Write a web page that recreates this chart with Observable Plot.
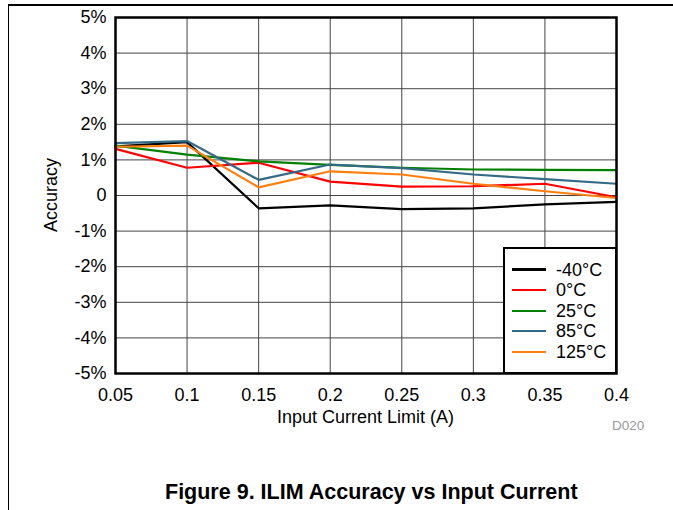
<!DOCTYPE html>
<html>
<head>
<meta charset="utf-8">
<script src="https://cdn.jsdelivr.net/npm/d3@7"></script>
<script src="https://cdn.jsdelivr.net/npm/@observablehq/plot@0.6"></script>
<style>
  html, body { margin: 0; padding: 0; background: #fff; }
  body { width: 673px; height: 510px; position: relative; overflow: hidden; font-family: Arial, "Liberation Sans", sans-serif; }
  #border { position: absolute; left: 8px; top: 4px; width: 665px; height: 506px; border-top: 2px solid #000; border-left: 1.5px solid #000; box-sizing: border-box; }
  #chart { position: absolute; left: 0; top: 0; }
  #ylabel { position: absolute; left: 51px; top: 194.5px; transform: translate(-50%, -50%) rotate(-90deg); font-size: 18px; line-height: 18px; white-space: nowrap; }
  #xlabel { position: absolute; left: 365.5px; top: 408px; transform: translateX(-50%); font-size: 18px; line-height: 18px; white-space: nowrap; }
  #code { position: absolute; left: 612px; top: 418.5px; font-size: 13.5px; line-height: 13.5px; color: #999; }
  #title { position: absolute; left: 165px; top: 482px; font-size: 21.5px; line-height: 21.5px; font-weight: bold; white-space: nowrap; }
  #legend { position: absolute; left: 502.5px; top: 246.5px; width: 114px; height: 127px; border: 2.5px solid #000; background: #fff; box-sizing: border-box; }
  .item { position: absolute; left: 7.5px; height: 20px; display: flex; align-items: center; font-size: 18px; line-height: 18px; white-space: nowrap; }
  .sw { width: 34px; height: 2.3px; margin-right: 10px; }
</style>
</head>
<body>
<div id="border"></div>
<div id="chart"></div>
<div id="ylabel">Accuracy</div>
<div id="xlabel">Input Current Limit (A)</div>
<div id="code">D020</div>
<div id="title">Figure 9. ILIM Accuracy vs Input Current</div>
<div id="legend"></div>
<script>
const currents = [0.05, 0.1, 0.15, 0.2, 0.25, 0.3, 0.35, 0.4];
const seriesNames = ["-40°C", "0°C", "25°C", "85°C", "125°C"];
const seriesColors = ["#000000", "#ff0000", "#008000", "#336a85", "#ff7f0e"];
const accM40 = [1.38, 1.50, -0.36, -0.28, -0.38, -0.36, -0.25, -0.18];
const acc0 = [1.31, 0.78, 0.92, 0.39, 0.25, 0.26, 0.33, -0.05];
const acc25 = [1.40, 1.15, 0.96, 0.86, 0.78, 0.73, 0.72, 0.71];
const acc85 = [1.47, 1.53, 0.44, 0.87, 0.77, 0.59, 0.46, 0.33];
const acc125 = [1.37, 1.40, 0.23, 0.68, 0.59, 0.33, 0.12, -0.07];
const yTicks = [-5, -4, -3, -2, -1, 0, 1, 2, 3, 4, 5];

const allSeries = [accM40, acc0, acc25, acc85, acc125];
const rows = [];
allSeries.forEach((vals, i) => {
  vals.forEach((v, j) => rows.push({ series: seriesNames[i], x: currents[j], y: v }));
});

const chart = Plot.plot({
  width: 673,
  height: 440,
  marginLeft: 115,
  marginRight: 57,
  marginTop: 17,
  marginBottom: 67,
  style: { fontFamily: "Arial, 'Liberation Sans', sans-serif", fontSize: "18px", color: "#000", background: "transparent" },
  x: { domain: [0.05, 0.4], label: null },
  y: { domain: [-5, 5], label: null },
  color: { domain: seriesNames, range: seriesColors },
  marks: [
    Plot.ruleX(currents, { stroke: "#444", strokeWidth: 1 }),
    Plot.ruleY(yTicks, { stroke: "#444", strokeWidth: 1 }),
    Plot.axisX({ ticks: currents, tickFormat: d => String(d), tickSize: 0, tickPadding: 15, label: null, fontSize: 18 }),
    Plot.axisY({ ticks: yTicks, tickFormat: d => d === 0 ? "0" : d + "%", tickSize: 0, tickPadding: 9, label: null, fontSize: 18 }),
    Plot.line(rows, { x: "x", y: "y", z: "series", stroke: "series", strokeWidth: 2.2 }),
    Plot.frame({ stroke: "#000", strokeWidth: 2.5 })
  ]
});
document.getElementById("chart").appendChild(chart);

const legend = document.getElementById("legend");
seriesNames.forEach((name, i) => {
  const item = document.createElement("div");
  item.className = "item";
  item.style.top = (11 + i * 20.6) + "px";
  const sw = document.createElement("div");
  sw.className = "sw";
  sw.style.background = seriesColors[i];
  const lab = document.createElement("span");
  lab.textContent = name;
  item.appendChild(sw);
  item.appendChild(lab);
  legend.appendChild(item);
});
</script>
</body>
</html>
